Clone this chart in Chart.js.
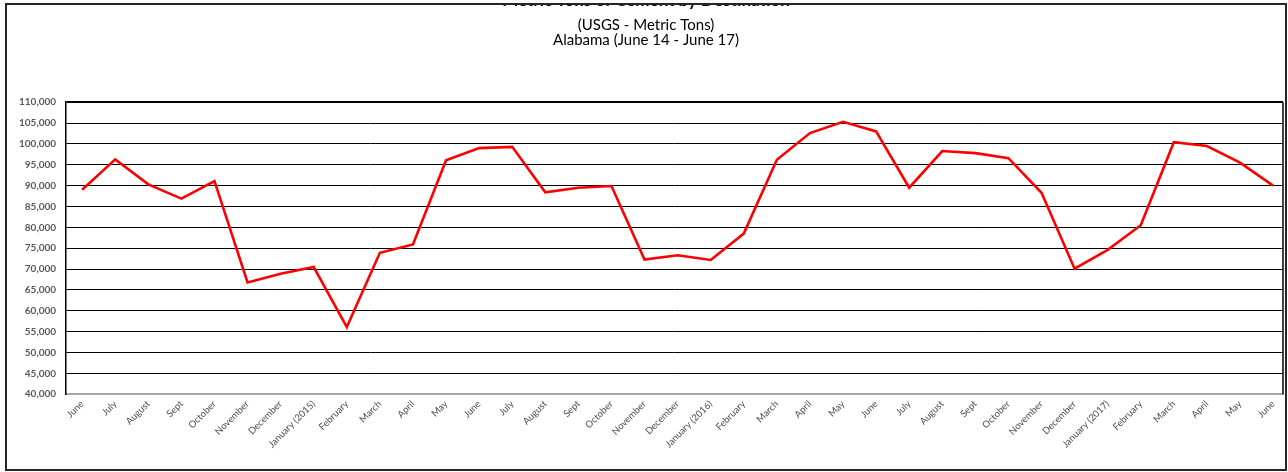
<!DOCTYPE html>
<html>
<head>
<meta charset="utf-8">
<title>Metric Tons of Cement by Destination - Alabama</title>
<script src="https://cdn.jsdelivr.net/npm/chart.js@4.4.0/dist/chart.umd.min.js"></script>
<style>
  html, body { margin: 0; padding: 0; background: #fff; }
  #wrap { position: relative; width: 1288px; height: 472px; overflow: hidden; }
  /* el marco recorta el grafico (la primera linea del titulo queda cortada) */
  #frame {
    position: absolute; left: 5px; top: 3px; width: 1282px; height: 468px;
    box-sizing: border-box; border: 2px solid #262626; overflow: hidden;
  }
  #chartBox { position: absolute; left: -7px; top: -19px; width: 1288px; height: 486px; }
</style>
</head>
<body>
<div id="wrap">
  <div id="frame">
    <div id="chartBox"><canvas id="graficoCemento"></canvas></div>
  </div>
</div>

<script>
// meses (junio 2014 - junio 2017)
const meses = [
  "June", "July", "August", "Sept", "October", "November", "December",
  "January (2015)", "February", "March", "April", "May",
  "June", "July", "August", "Sept", "October", "November", "December",
  "January (2016)", "February", "March", "April", "May",
  "June", "July", "August", "Sept", "October", "November", "December",
  "January (2017)", "February", "March", "April", "May", "June"
];

// toneladas metricas
const toneladas = [
  89000, 96300, 90300, 86900, 91100, 66800, 68900,
  70500, 56100, 73900, 75900, 96100,
  99000, 99300, 88400, 89500, 89900, 72300, 73300,
  72200, 78500, 96200, 102600, 105300,
  103000, 89500, 98300, 97800, 96600, 88300, 70100,
  74600, 80500, 100400, 99500, 95500, 90000
];

const tituloLineas = ["Metric Tons of Cement by Destination"];
const subtituloLineas = ["(USGS - Metric Tons)", "Alabama (June 14 - June 17)"];

const yMin = 40000;
const yMax = 110000;
const yPaso = 5000;

const puntos = toneladas.map((v, i) => ({ x: i, y: v }));
const fuente = "Lato, 'Open Sans', 'DejaVu Sans', sans-serif";

const ctx = document.getElementById("graficoCemento");
new Chart(ctx, {
  type: "line",
  data: {
    datasets: [{
      label: "Metric Tons",
      data: puntos,
      borderColor: "#ff0000",
      borderWidth: 2.6,
      pointRadius: 0,
      fill: false,
      tension: 0
    }]
  },
  options: {
    responsive: true,
    maintainAspectRatio: false,
    animation: false,
    layout: { padding: { left: 9, right: 5, top: 0, bottom: 18 } },
    plugins: {
      legend: { display: false },
      tooltip: { enabled: false },
      title: {
        display: true,
        text: tituloLineas,
        color: "#000",
        font: { family: fuente, size: 17, weight: "bold" },
        padding: { top: 4, bottom: 0 }
      },
      subtitle: {
        display: true,
        text: subtituloLineas,
        color: "#000",
        font: { family: fuente, size: 15, lineHeight: 0.96 },
        padding: { top: 8, bottom: 55 }
      }
    },
    scales: {
      x: {
        type: "linear",
        min: -0.484,
        max: 36.3,
        grid: { display: false, drawTicks: false },
        border: { display: true, color: "#a6a6a6", width: 2 },
        ticks: {
          stepSize: 1,
          includeBounds: false,
          autoSkip: false,
          maxRotation: 45,
          minRotation: 45,
          padding: 4,
          color: "#4d4d4d",
          font: { family: fuente, size: 9.5 },
          callback: (v) => Number.isInteger(v) && meses[v] !== undefined ? meses[v] : ""
        }
      },
      y: {
        min: yMin,
        max: yMax,
        grid: {
          color: "#000",
          lineWidth: (c) => (c.tick && c.tick.value === yMax ? 2 : 1),
          drawTicks: false
        },
        border: { display: true, color: "#000", width: 1.5 },
        ticks: {
          stepSize: yPaso,
          padding: 10,
          color: "#595959",
          font: { family: fuente, size: 10, weight: "bold" },
          callback: (v) => v.toLocaleString("en-US")
        }
      }
    }
  },
  plugins: [{
    // borde derecho del area del grafico
    id: "bordeDerecho",
    afterDraw(chart) {
      const a = chart.chartArea;
      const c = chart.ctx;
      c.save();
      c.strokeStyle = "#000";
      c.lineWidth = 1.5;
      c.beginPath();
      c.moveTo(a.right, a.top);
      c.lineTo(a.right, a.bottom);
      c.stroke();
      c.restore();
    }
  }]
});
</script>
</body>
</html>
